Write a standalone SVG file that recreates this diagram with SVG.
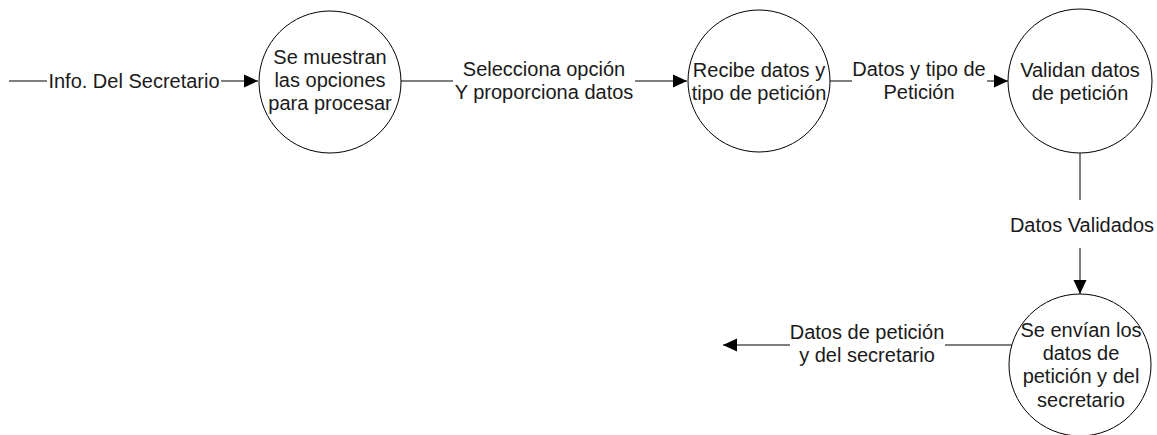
<svg xmlns="http://www.w3.org/2000/svg" width="1157" height="435" viewBox="0 0 1157 435">
<defs>
<marker id="arr" markerWidth="15" markerHeight="14" refX="14" refY="7" orient="auto" markerUnits="userSpaceOnUse">
<path d="M0,0.5 L14,7 L0,13.5 Z" fill="#000"/>
</marker>
</defs>
<style>
.node{fill:#fff;stroke:#000;stroke-width:1}
.t{font-family:"Liberation Sans",Arial,sans-serif;font-size:20px;fill:#1a1a1a;text-anchor:middle}
.c{fill:none;stroke:#000;stroke-width:1}
</style>
<rect width="1157" height="435" fill="#fff"/>
<g id="connectors">
<line class="c" x1="9" y1="81" x2="47" y2="81"/>
<line class="c" x1="221" y1="81" x2="258" y2="81" marker-end="url(#arr)"/>
<line class="c" x1="401" y1="81" x2="453" y2="81"/>
<line class="c" x1="635" y1="81" x2="687" y2="81" marker-end="url(#arr)"/>
<line class="c" x1="830" y1="81" x2="852" y2="81"/>
<line class="c" x1="987" y1="81" x2="1008" y2="81" marker-end="url(#arr)"/>
<line class="c" x1="1080" y1="153" x2="1080" y2="200"/>
<line class="c" x1="1080" y1="248" x2="1080" y2="294" marker-end="url(#arr)"/>
<line class="c" x1="1012" y1="345" x2="945" y2="345"/>
<line class="c" x1="790" y1="345" x2="723" y2="345" marker-end="url(#arr)"/>
<text class="t" x="134" y="88">Info. Del Secretario</text>
<text class="t" x="544" y="76">Selecciona opción</text>
<text class="t" x="544" y="99">Y proporciona datos</text>
<text class="t" x="919" y="76">Datos y tipo de</text>
<text class="t" x="919" y="99">Petición</text>
<text class="t" x="1082" y="232">Datos Validados</text>
<text class="t" x="867" y="339">Datos de petición</text>
<text class="t" x="867" y="362">y del secretario</text>
</g>
<g id="n1">
<circle class="node" cx="330" cy="82" r="71"/>
<text class="t" x="330" y="64">Se muestran</text>
<text class="t" x="330" y="87">las opciones</text>
<text class="t" x="330" y="110">para procesar</text>
</g>
<g id="n2">
<circle class="node" cx="759" cy="81" r="71"/>
<text class="t" x="759" y="77">Recibe datos y</text>
<text class="t" x="759" y="100">tipo de petición</text>
</g>
<g id="n3">
<circle class="node" cx="1080" cy="81" r="72"/>
<text class="t" x="1080" y="77">Validan datos</text>
<text class="t" x="1080" y="100">de petición</text>
</g>
<g id="n4">
<circle class="node" cx="1080" cy="365" r="71"/>
<text class="t" x="1081" y="337">Se envían los</text>
<text class="t" x="1081" y="360">datos de</text>
<text class="t" x="1081" y="383">petición y del</text>
<text class="t" x="1081" y="407">secretario</text>
</g>
</svg>
